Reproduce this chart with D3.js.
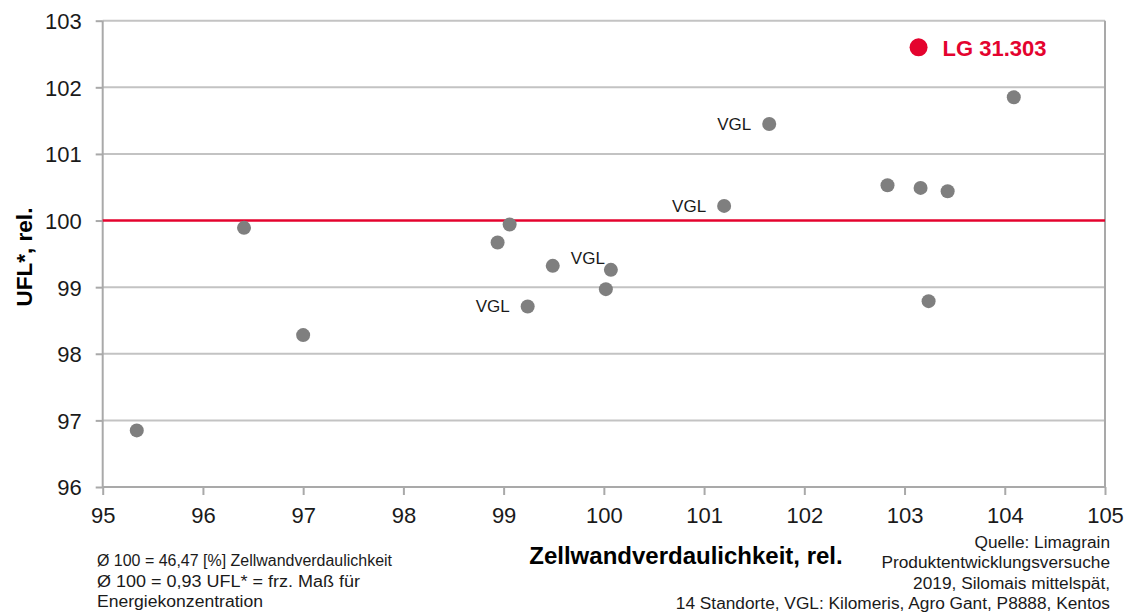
<!DOCTYPE html>
<html>
<head>
<meta charset="utf-8">
<script src="https://cdn.jsdelivr.net/npm/d3@7/dist/d3.min.js"></script>
<style>
  html, body { margin: 0; padding: 0; background: #ffffff; }
  svg { display: block; font-family: "Liberation Sans", Arial, sans-serif; }
</style>
</head>
<body>
<svg id="chart" width="1129" height="613"></svg>
<script>
// ---- data ----
const xValues = [95.34, 96.41, 97.00, 98.94, 99.06, 99.49, 99.24, 100.02, 100.07, 101.20, 101.65, 102.83, 103.16, 103.43, 103.24, 104.09];
const yValues = [96.85, 99.89, 98.28, 99.67, 99.94, 99.32, 98.71, 98.97, 99.26, 100.22, 101.45, 100.53, 100.49, 100.44, 98.79, 101.85];
const pointLabels = ["", "", "", "", "", "", "VGL", "", "VGL", "VGL", "VGL", "", "", "", "", ""];
const labelSide = ["", "", "", "", "", "", "left", "", "upperleft", "left", "left", "", "", "", "", ""];
const highlightName = "LG 31.303";
const highlightX = [103.14];
const highlightY = [102.60];
const referenceValue = 100;
const xTicks = [95, 96, 97, 98, 99, 100, 101, 102, 103, 104, 105];
const yTicks = [96, 97, 98, 99, 100, 101, 102, 103];
const xTitle = "Zellwandverdaulichkeit, rel.";
const yTitle = "UFL*, rel.";
const notesLeft = ["Ø 100 = 46,47 [%] Zellwandverdaulichkeit", "Ø 100 = 0,93 UFL* = frz. Maß für", "Energiekonzentration"];
const notesRight = ["Quelle: Limagrain", "Produktentwicklungsversuche", "2019, Silomais mittelspät,", "14 Standorte, VGL: Kilomeris, Agro Gant, P8888, Kentos"];

(function () {
// ---- layout ----
const svg = d3.select("#chart");
const pLeft = 102.7, pRight = 1105, pTop = 20.7, pBottom = 487;
const x = d3.scaleLinear().domain([95, 105]).range([pLeft, pRight]);
const y = d3.scaleLinear().domain([96, 103]).range([pBottom, pTop]);
const gridColor = "#c3c3c3";
const axisColor = "#a9a9a9";
const red = "#e4032e";
const dotGray = "#7f7f7f";
const textColor = "#1a1a1a";

// gridlines
svg.append("g").selectAll("line").data(yTicks.filter(v => v !== 96 && v !== referenceValue)).join("line")
  .attr("x1", pLeft).attr("x2", pRight)
  .attr("y1", d => y(d)).attr("y2", d => y(d))
  .attr("stroke", gridColor).attr("stroke-width", 2);

// right border
svg.append("line").attr("x1", pRight).attr("x2", pRight).attr("y1", y(103)).attr("y2", pBottom)
  .attr("stroke", axisColor).attr("stroke-width", 2);

// axes
const yAxis = d3.axisLeft(y).tickValues(yTicks).tickSize(7).tickPadding(14).tickFormat(d3.format("d"));
const gy = svg.append("g").attr("transform", `translate(${pLeft},0)`).call(yAxis);
const xAxis = d3.axisBottom(x).tickValues(xTicks).tickSize(8).tickPadding(12).tickFormat(d3.format("d"));
const gx = svg.append("g").attr("transform", `translate(0,${pBottom})`).call(xAxis);
[gx, gy].forEach(g => {
  g.select(".domain").attr("stroke", axisColor).attr("stroke-width", 2);
  g.selectAll(".tick line").attr("stroke", axisColor).attr("stroke-width", 2);
  g.selectAll(".tick text").attr("fill", textColor).style("font-size", "22px")
    .style("font-family", "'Liberation Sans', Arial, sans-serif");
});
gx.select(".domain").attr("d", `M${pLeft},0H${pRight}`);
gy.select(".domain").attr("d", `M0,${pBottom}V${pTop}`);
gy.selectAll(".tick text").attr("dy", "0.36em");

// reference line
svg.append("line").attr("x1", pLeft).attr("x2", pRight)
  .attr("y1", y(referenceValue)).attr("y2", y(referenceValue))
  .attr("stroke", red).attr("stroke-width", 2.5);

// points
const pts = xValues.map((v, i) => ({ x: v, y: yValues[i], label: pointLabels[i], side: labelSide[i] }));
svg.append("g").selectAll("circle").data(pts).join("circle")
  .attr("cx", d => x(d.x)).attr("cy", d => y(d.y)).attr("r", 7)
  .attr("fill", dotGray);

svg.append("g").selectAll("text").data(pts.filter(d => d.label)).join("text")
  .attr("x", d => d.side === "upperleft" ? x(d.x) - 6 : x(d.x) - 18)
  .attr("y", d => d.side === "upperleft" ? y(d.y) - 6 : y(d.y) + 6)
  .attr("text-anchor", "end")
  .attr("fill", textColor).style("font-size", "17px")
  .text(d => d.label);

// highlight
svg.append("circle").attr("cx", x(highlightX[0])).attr("cy", y(highlightY[0])).attr("r", 9).attr("fill", red);
svg.append("text").attr("x", x(highlightX[0]) + 24).attr("y", y(highlightY[0]) + 8.5)
  .attr("fill", red).style("font-size", "22px").style("font-weight", "bold").text(highlightName);

// axis titles
svg.append("text").attr("x", 686).attr("y", 564).attr("text-anchor", "middle")
  .attr("fill", "#000").style("font-size", "24px").style("font-weight", "bold").text(xTitle);
svg.append("text").attr("transform", "translate(32,257) rotate(-90)").attr("text-anchor", "middle")
  .attr("fill", "#000").style("font-size", "22.5px").style("font-weight", "bold").text(yTitle);

// notes
const leftWidths = [295, 263, 166];
svg.append("g").selectAll("text").data(notesLeft).join("text")
  .attr("x", 97).attr("y", (d, i) => 566 + i * 20.5)
  .attr("textLength", (d, i) => leftWidths[i]).attr("lengthAdjust", "spacingAndGlyphs")
  .attr("fill", textColor).style("font-size", "17.3px").text(d => d);
svg.append("g").selectAll("text").data(notesRight).join("text")
  .attr("x", 1110).attr("y", (d, i) => 548 + i * 20.4).attr("text-anchor", "end")
  .attr("fill", textColor).style("font-size", "17.3px").text(d => d);
})();
</script>
</body>
</html>
